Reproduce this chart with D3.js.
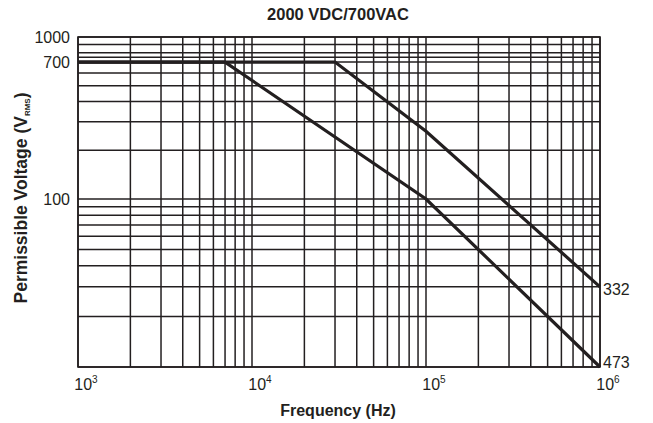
<!DOCTYPE html>
<html>
<head>
<meta charset="utf-8">
<script src="https://cdn.jsdelivr.net/npm/d3@7"></script>
<style>
  body { margin: 0; background: #fff; }
  text { font-family: "Liberation Sans", Arial, sans-serif; fill: #231f20; }
</style>
</head>
<body>
<div id="chart"></div>
<script>
// values
const xDecades = [3, 4, 5, 6];
const yTickLabels = [1000, 700, 100];
const yGridValues = [1000, 900, 800, 750, 700, 600, 500, 400, 300, 200,
                     100, 90, 80, 70, 60, 50, 40, 30, 20, 10];
const curve473 = [ [1e3, 700], [7e3, 700], [1e5, 100], [1e6, 10] ];
const curve332 = [ [1e3, 700], [3e4, 700], [1e5, 262], [1e6, 30] ];
const endLabels = ["332", "473"];

const W = 653, H = 423;
const margin = { top: 37, right: 53, bottom: 56, left: 78 };
const ink = "#231f20";

const svg = d3.select("#chart").append("svg")
  .attr("width", W)
  .attr("height", H);

const x = d3.scaleLog()
  .domain([1e3, 1e6])
  .range([margin.left, W - margin.right]);

// the printed grid is not quite uniform, so two decades are mapped separately
const y = d3.scaleLog()
  .domain([10, 100, 1000])
  .range([367, 199, 37]);

// vertical grid: 1..9 in each decade
const xGridValues = [];
xDecades.slice(0, -1).forEach(function(p) {
  for (let k = 1; k < 10; k++) xGridValues.push(k * Math.pow(10, p));
});
xGridValues.push(1e6);

const grid = svg.append("g").attr("stroke", ink).attr("stroke-width", 1.5);

grid.selectAll(".vgrid")
  .data(xGridValues)
  .enter().append("line")
    .attr("class", "vgrid")
    .attr("x1", function(d) { return x(d) })
    .attr("x2", function(d) { return x(d) })
    .attr("y1", y(1000))
    .attr("y2", y(10));

grid.selectAll(".hgrid")
  .data(yGridValues)
  .enter().append("line")
    .attr("class", "hgrid")
    .attr("x1", x(1e3))
    .attr("x2", x(1e6))
    .attr("y1", function(d) { return y(d) })
    .attr("y2", function(d) { return y(d) });

// frame
svg.append("rect")
  .attr("x", x(1e3))
  .attr("y", y(1000))
  .attr("width", x(1e6) - x(1e3))
  .attr("height", y(10) - y(1000))
  .attr("fill", "none")
  .attr("stroke", ink)
  .attr("stroke-width", 1.6);

// curves
const line = d3.line()
  .x(function(d) { return x(d[0]) })
  .y(function(d) { return y(d[1]) });

svg.selectAll(".curve")
  .data([curve332, curve473])
  .enter().append("path")
    .attr("class", "curve")
    .attr("fill", "none")
    .attr("stroke", ink)
    .attr("stroke-width", 3.2)
    .attr("d", line);

svg.selectAll(".endlabel")
  .data([curve332, curve473])
  .enter().append("text")
    .attr("class", "endlabel")
    .attr("x", function(d) { return x(d[d.length - 1][0]) + 3 })
    .attr("y", function(d, i) { return y(d[d.length - 1][1]) + (i === 0 ? 8 : 1) })
    .attr("font-size", 16)
    .text(function(d, i) { return endLabels[i] });

// y tick labels
svg.selectAll(".ylabel")
  .data(yTickLabels)
  .enter().append("text")
    .attr("class", "ylabel")
    .attr("x", margin.left - 8)
    .attr("y", function(d) { return y(d) })
    .attr("dy", "0.35em")
    .attr("text-anchor", "end")
    .attr("font-size", 16)
    .text(function(d) { return d });

// x tick labels, 10 with superscript
const xl = svg.selectAll(".xlabel")
  .data(xDecades)
  .enter().append("text")
    .attr("class", "xlabel")
    .attr("x", function(d) { return x(Math.pow(10, d)) + 8 })
    .attr("y", 390)
    .attr("text-anchor", "middle")
    .attr("font-size", 16);
xl.append("tspan").text("10");
xl.append("tspan")
  .attr("dy", -7)
  .attr("font-size", 10)
  .text(function(d) { return d });

// titles
svg.append("text")
  .attr("x", 338)
  .attr("y", 20)
  .attr("text-anchor", "middle")
  .attr("font-size", 16.5)
  .attr("font-weight", "bold")
  .text("2000 VDC/700VAC");

svg.append("text")
  .attr("x", 338)
  .attr("y", 416)
  .attr("text-anchor", "middle")
  .attr("font-size", 16)
  .attr("font-weight", "bold")
  .text("Frequency (Hz)");

const yt = svg.append("text")
  .attr("transform", "translate(27,198) rotate(-90)")
  .attr("text-anchor", "middle")
  .attr("font-size", 17.5)
  .attr("font-weight", "bold");
yt.append("tspan").text("Permissible Voltage (V");
yt.append("tspan").attr("font-size", 8).attr("dy", 3).text("RMS");
yt.append("tspan").attr("dy", -3).text(")");
</script>
</body>
</html>
